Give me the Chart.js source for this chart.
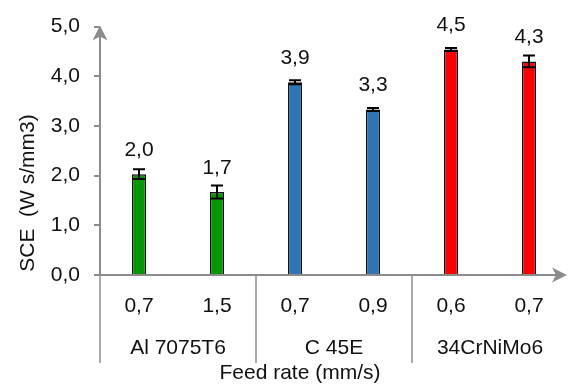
<!DOCTYPE html>
<html>
<head>
<meta charset="utf-8">
<script src="https://cdn.jsdelivr.net/npm/chart.js@4"></script>
<style>
  html, body { margin: 0; padding: 0; background: #fff; }
  #wrap { width: 568px; height: 387px; position: relative; }
</style>
</head>
<body>
<div id="wrap"><canvas id="c" width="568" height="387"></canvas></div>
<script>
// ---- data ----
const categories = ['0,7', '1,5', '0,7', '0,9', '0,6', '0,7'];
const groups = ['Al 7075T6', 'C 45E', '34CrNiMo6'];
const sceValues = [2.03, 1.67, 3.88, 3.33, 4.54, 4.30];
const sceErrors = [0.10, 0.13, 0.04, 0.03, 0.03, 0.12];
const barColors = ['#009900', '#009900', '#2e75b6', '#2e75b6', '#ff0000', '#ff0000'];
const yTitle = 'SCE  (W s/mm3)';
const xTitle = 'Feed rate (mm/s)';

const FONT = "'Liberation Sans Narrow', 'Arial Narrow', 'Liberation Sans', Arial, sans-serif";
const AXIS = '#8c8c8c';
const fmt = v => v.toFixed(1).replace('.', ',');

const extras = {
  id: 'extras',
  afterDraw(chart) {
    const ctx = chart.ctx;
    const xs = chart.scales.x, ys = chart.scales.y;
    const ca = chart.chartArea;
    const y0 = ys.getPixelForValue(0);
    const x0 = ca.left;
    ctx.save();
    // error bars
    ctx.strokeStyle = '#000';
    ctx.lineWidth = 2;
    sceValues.forEach((v, i) => {
      const x = xs.getPixelForValue(i);
      const yt = ys.getPixelForValue(v + sceErrors[i]);
      const yb = ys.getPixelForValue(v - sceErrors[i]);
      ctx.beginPath();
      ctx.moveTo(x, yt); ctx.lineTo(x, yb);
      ctx.moveTo(x - 6, yt); ctx.lineTo(x + 6, yt);
      ctx.moveTo(x - 6, yb); ctx.lineTo(x + 6, yb);
      ctx.stroke();
    });
    // data labels
    ctx.fillStyle = '#111';
    ctx.font = '21px ' + FONT;
    ctx.textAlign = 'center';
    ctx.textBaseline = 'middle';
    sceValues.forEach((v, i) => {
      ctx.fillText(fmt(v), xs.getPixelForValue(i), ys.getPixelForValue(v) - 24);
    });
    // axes
    ctx.strokeStyle = AXIS;
    ctx.fillStyle = AXIS;
    ctx.lineWidth = 2;
    const yTop = ys.getPixelForValue(5) - 1;
    ctx.beginPath();
    ctx.moveTo(x0, y0); ctx.lineTo(x0, yTop + 10);
    ctx.moveTo(x0 - 6, y0); ctx.lineTo(chart.width - 12, y0);
    ctx.stroke();
    // arrows
    ctx.beginPath();
    ctx.moveTo(x0, yTop); ctx.lineTo(x0 - 7.5, yTop + 15); ctx.lineTo(x0, yTop + 11); ctx.lineTo(x0 + 7.5, yTop + 15); ctx.closePath();
    ctx.fill();
    const xr = chart.width - 1;
    ctx.beginPath();
    ctx.moveTo(xr, y0); ctx.lineTo(xr - 15, y0 - 7.5); ctx.lineTo(xr - 11, y0); ctx.lineTo(xr - 15, y0 + 7.5); ctx.closePath();
    ctx.fill();
    // group separators
    ctx.lineWidth = 1.5;
    const sepBottom = y0 + 88;
    const step = xs.getPixelForValue(1) - xs.getPixelForValue(0);
    ctx.beginPath();
    for (let g = 0; g <= groups.length - 1; g++) {
      const sx = g === 0 ? x0 : xs.getPixelForValue(g * 2) - step / 2;
      ctx.moveTo(sx, y0); ctx.lineTo(sx, sepBottom);
    }
    ctx.stroke();
    // group labels
    ctx.fillStyle = '#111';
    ctx.font = '21px ' + FONT;
    groups.forEach((g, i) => {
      const cx = (xs.getPixelForValue(i * 2) + xs.getPixelForValue(i * 2 + 1)) / 2;
      ctx.fillText(g, cx, y0 + 73);
    });
    // x title
    ctx.fillText(xTitle, 300, y0 + 98);
    // y title
    ctx.translate(28, 193);
    ctx.rotate(-Math.PI / 2);
    ctx.fillText(yTitle, 0, 0);
    ctx.restore();
  }
};

new Chart(document.getElementById('c'), {
  type: 'bar',
  data: {
    labels: categories,
    datasets: [{
      data: sceValues,
      backgroundColor: barColors,
      borderColor: '#111',
      borderWidth: 1.5,
      barPercentage: 0.18,
      categoryPercentage: 1.0
    }]
  },
  options: {
    responsive: false,
    animation: false,
    devicePixelRatio: 1,
    layout: { padding: { top: 20, right: 0, bottom: 0, left: 0 } },
    plugins: { legend: { display: false }, tooltip: { enabled: false } },
    scales: {
      y: {
        min: 0, max: 5,
        afterFit: s => { s.width = 100; },
        border: { display: false },
        grid: { drawOnChartArea: false, drawTicks: true, tickLength: 6, color: AXIS, lineWidth: 2 },
        ticks: {
          stepSize: 0.5,
          padding: 14,
          color: '#111',
          font: { family: FONT, size: 21 },
          callback: v => (Math.abs(v - Math.round(v)) < 1e-9 ? fmt(v) : '')
        }
      },
      x: {
        afterFit: s => { s.height = 112; },
        border: { display: false },
        grid: { display: false },
        ticks: {
          padding: 11,
          color: '#111',
          maxRotation: 0,
          font: { family: FONT, size: 21 }
        }
      }
    }
  },
  plugins: [extras]
});
</script>
</body>
</html>
